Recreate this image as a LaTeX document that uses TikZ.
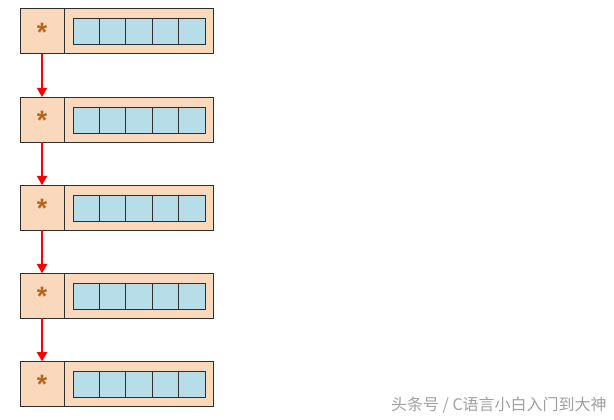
\documentclass[tikz,border=0pt]{standalone}
\usepackage{fontspec}
\setsansfont{Liberation Sans}
\newfontfamily\cjk{Noto Sans CJK SC}
\usetikzlibrary{arrows.meta}
\definecolor{peach}{HTML}{FAD8BC}
\definecolor{cellblue}{HTML}{B7DDE8}
\definecolor{starbrown}{HTML}{B5651D}
\definecolor{edgegray}{HTML}{2E2E2E}
\definecolor{wmgray}{HTML}{A0A0A0}
\begin{document}
\begin{tikzpicture}[x=0.75pt,y=-0.75pt,
  ptrbox/.style={draw=edgegray,fill=peach,line width=0.75pt,minimum width=33pt,minimum height=33.75pt,inner sep=0pt,outer sep=0pt},
  databox/.style={draw=edgegray,fill=peach,line width=0.75pt,minimum width=111.75pt,minimum height=33.75pt,inner sep=0pt,outer sep=0pt},
  cellbox/.style={draw=edgegray,fill=cellblue,line width=0.75pt,minimum width=19.8pt,minimum height=19.5pt,inner sep=0pt,outer sep=0pt},
  starlbl/.style={text=starbrown,font=\sffamily\bfseries\fontsize{20}{20}\selectfont,inner sep=0pt,anchor=base},
  link/.style={draw=red,line width=1.5pt,-{Triangle[width=7.5pt,length=7pt]}},
  wmark/.style={text=wmgray,font=\cjk\fontsize{12}{14}\selectfont,inner sep=0pt}]
\useasboundingbox (0,0) rectangle (614,420);
\foreach \i in {0,...,4} {
  \pgfmathsetmacro\rtop{9+88.1*\i}
  \node[ptrbox,anchor=north west] (p\i) at (20,\rtop) {};
  \node[databox,anchor=north west] (d\i) at (64,\rtop) {};
  \node[starlbl] (s\i) at (42,\rtop+32.5) {*};
  \foreach \k in {0,...,4} {
    \node[cellbox,anchor=north west] (c\i\k) at (73+26.4*\k,\rtop+10) {};
  }
}
\foreach \i/\j in {0/1,1/2,2/3,3/4} {
  \draw[link] (p\i.south) -- (p\j.north);
}
\node[wmark,anchor=east] (wm) at (607,405) {头条号 / C语言小白入门到大神};
\end{tikzpicture}
\end{document}
